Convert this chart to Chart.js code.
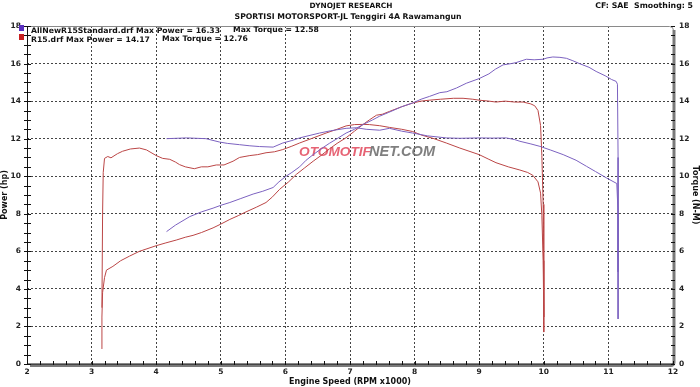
<!DOCTYPE html>
<html>
<head>
<meta charset="utf-8">
<script src="https://cdn.jsdelivr.net/npm/chart.js@4"></script>
<style>
  body { margin: 0; background: #fff; }
  #grafik { display: block; }
</style>
</head>
<body>
<canvas id="grafik" width="700" height="387"></canvas>
<script>
const rpmPowerStd = [4.16, 4.3, 4.52, 4.7, 4.88, 5.0, 5.14, 5.3, 5.5, 5.65, 5.81, 5.9, 6.01, 6.1, 6.22, 6.32, 6.43, 6.55, 6.68, 6.8, 6.94, 7.07, 7.2, 7.35, 7.46, 7.6, 7.8, 7.97, 8.1, 8.23, 8.39, 8.5, 8.65, 8.8, 9.0, 9.15, 9.25, 9.37, 9.5, 9.57, 9.73, 9.85, 9.99, 10.05, 10.14, 10.25, 10.35, 10.45, 10.55, 10.7, 10.81, 10.95, 11.05, 11.12, 11.14, 11.15, 11.15, 11.15];
const hpStd = [7.05, 7.4, 7.85, 8.1, 8.3, 8.45, 8.6, 8.8, 9.05, 9.2, 9.4, 9.7, 10.0, 10.2, 10.5, 10.85, 11.15, 11.45, 11.75, 12.0, 12.3, 12.5, 12.75, 13.0, 13.2, 13.4, 13.7, 13.9, 14.1, 14.25, 14.45, 14.5, 14.7, 14.95, 15.2, 15.45, 15.7, 15.93, 16.0, 16.05, 16.23, 16.2, 16.23, 16.3, 16.35, 16.33, 16.28, 16.15, 16.0, 15.8, 15.58, 15.35, 15.15, 15.05, 14.9, 11.0, 5.0, 2.4];

const rpmTorsiStd = [4.16, 4.47, 4.77, 4.98, 5.1, 5.29, 5.45, 5.6, 5.81, 5.96, 6.1, 6.22, 6.35, 6.53, 6.7, 6.94, 7.1, 7.25, 7.46, 7.61, 7.8, 7.97, 8.2, 8.49, 8.7, 9.0, 9.2, 9.42, 9.55, 9.63, 9.8, 9.94, 10.1, 10.3, 10.5, 10.66, 10.8, 10.97, 11.13, 11.15, 11.15];
const nmStd = [12.0, 12.04, 12.0, 11.82, 11.75, 11.68, 11.62, 11.58, 11.55, 11.77, 11.9, 12.04, 12.15, 12.3, 12.42, 12.55, 12.58, 12.5, 12.45, 12.55, 12.4, 12.3, 12.15, 12.04, 12.02, 12.04, 12.03, 12.04, 11.95, 11.86, 11.72, 11.59, 11.4, 11.15, 10.85, 10.53, 10.25, 9.91, 9.61, 8.0, 4.9];

const rpmPowerR15 = [3.16, 3.16, 3.17, 3.2, 3.23, 3.33, 3.45, 3.59, 3.74, 4.0, 4.15, 4.31, 4.45, 4.57, 4.7, 4.88, 5.0, 5.14, 5.27, 5.39, 5.55, 5.7, 5.8, 5.91, 6.05, 6.17, 6.3, 6.43, 6.55, 6.68, 6.8, 6.94, 7.07, 7.2, 7.3, 7.41, 7.5, 7.61, 7.8, 7.97, 8.1, 8.23, 8.4, 8.6, 8.75, 8.9, 9.0, 9.15, 9.26, 9.4, 9.55, 9.68, 9.8, 9.86, 9.91, 9.95, 9.97, 9.99, 10.0, 10.0];
const hpR15 = [0.8, 2.5, 3.8, 4.6, 5.0, 5.2, 5.5, 5.75, 6.0, 6.3, 6.45, 6.6, 6.75, 6.85, 7.0, 7.25, 7.45, 7.7, 7.9, 8.1, 8.35, 8.6, 8.9, 9.3, 9.7, 10.1, 10.45, 10.8, 11.1, 11.45, 11.75, 12.05, 12.4, 12.75, 13.0, 13.25, 13.3, 13.45, 13.7, 13.9, 14.0, 14.05, 14.1, 14.15, 14.15, 14.1, 14.05, 14.0, 13.95, 14.0, 13.95, 13.95, 13.85, 13.75, 13.5, 12.7, 11.1, 8.5, 5.0, 1.7];

const rpmTorsiR15 = [3.16, 3.17, 3.18, 3.2, 3.25, 3.3, 3.4, 3.48, 3.6, 3.74, 3.85, 4.0, 4.1, 4.21, 4.3, 4.36, 4.45, 4.59, 4.7, 4.8, 4.93, 5.05, 5.19, 5.29, 5.45, 5.57, 5.7, 5.83, 5.96, 6.1, 6.22, 6.4, 6.63, 6.8, 6.94, 7.07, 7.2, 7.3, 7.46, 7.61, 7.8, 7.97, 8.1, 8.3, 8.49, 8.7, 9.0, 9.15, 9.26, 9.45, 9.63, 9.75, 9.83, 9.91, 9.95, 9.97, 9.99, 10.0];
const nmR15 = [3.0, 8.0, 10.2, 10.95, 11.05, 10.98, 11.2, 11.33, 11.45, 11.5, 11.4, 11.1, 10.95, 10.9, 10.75, 10.62, 10.5, 10.4, 10.5, 10.5, 10.6, 10.6, 10.8, 11.0, 11.1, 11.15, 11.25, 11.3, 11.42, 11.6, 11.77, 12.0, 12.3, 12.5, 12.68, 12.75, 12.76, 12.75, 12.69, 12.6, 12.5, 12.38, 12.2, 12.0, 11.77, 11.5, 11.15, 10.9, 10.72, 10.5, 10.33, 10.2, 10.05, 9.7, 9.1, 7.9, 5.5, 2.5];

const ticksX = [2, 3, 4, 5, 6, 7, 8, 9, 10, 11, 12];
const ticksY = [0, 2, 4, 6, 8, 10, 12, 14, 16, 18];

const warnaStd = '#7c62c0';
const warnaR15 = '#bb4646';
const huruf = '"DejaVu Sans", Verdana, sans-serif';

function gabung(xs, ys) {
    return xs.map((x, i) => ({ x: x, y: ys[i] }));
}

function tulisPas(ctx, teks, x, y, lebar, align, warna, gaya) {
    ctx.font = gaya + ' 10px ' + huruf;
    const ukuran = 10 * lebar / ctx.measureText(teks).width;
    ctx.font = gaya + ' ' + ukuran.toFixed(2) + 'px ' + huruf;
    ctx.fillStyle = warna;
    ctx.textAlign = align;
    ctx.textBaseline = 'middle';
    ctx.fillText(teks, x, y);
}

const hiasan = {
    id: 'hiasan',
    beforeDatasetsDraw(chart) {
        const ctx = chart.ctx;
        ctx.save();
        ctx.font = 'italic bold 10px "Liberation Sans", Arial, sans-serif';
        let w = ctx.measureText('OTOMOTIF').width;
        ctx.font = 'italic bold ' + (10 * 72 / w).toFixed(2) + 'px "Liberation Sans", Arial, sans-serif';
        ctx.textAlign = 'left';
        ctx.textBaseline = 'middle';
        ctx.fillStyle = 'rgba(226, 72, 92, 0.85)';
        ctx.fillText('OTOMOTIF', 299, 152);
        ctx.font = 'italic bold 10px "Liberation Sans", Arial, sans-serif';
        w = ctx.measureText('NET.COM').width;
        ctx.font = 'italic bold ' + (10 * 66 / w).toFixed(2) + 'px "Liberation Sans", Arial, sans-serif';
        ctx.fillStyle = 'rgba(105, 105, 105, 0.85)';
        ctx.fillText('NET.COM', 369, 152);
        ctx.restore();
    },
    afterDraw(chart) {
        const ctx = chart.ctx;
        const a = chart.chartArea;
        const sx = chart.scales.x;
        const sy = chart.scales.y;
        ctx.save();

        ctx.strokeStyle = '#8a8a8a';
        ctx.lineWidth = 1;
        ctx.beginPath();
        ctx.moveTo(a.left, a.top + 0.5);
        ctx.lineTo(a.right - 4, a.top + 0.5);
        ctx.arcTo(a.right + 0.5, a.top + 0.5, a.right + 0.5, a.top + 5, 4);
        ctx.stroke();

        ctx.strokeStyle = '#7a7a7a';
        ctx.lineWidth = 3;
        ctx.beginPath();
        ctx.moveTo(a.right + 1, a.top + 4);
        ctx.lineTo(a.right + 1, a.bottom - 2);
        ctx.arcTo(a.right + 1, a.bottom + 1.5, a.right - 3, a.bottom + 1.5, 3);
        ctx.lineTo(a.left + 3, a.bottom + 1.5);
        ctx.stroke();

        ctx.strokeStyle = '#111';
        ctx.lineWidth = 1;
        ctx.beginPath();
        ctx.moveTo(a.left + 0.5, a.top);
        ctx.lineTo(a.left + 0.5, a.bottom);
        ctx.lineTo(a.right, a.bottom);
        for (let v = 0; v <= 18; v += 0.5) {
            const py = Math.round(sy.getPixelForValue(v)) + 0.5;
            ctx.moveTo(a.left - 3, py);
            ctx.lineTo(a.left + 4, py);
            ctx.moveTo(a.right - 2, py);
            ctx.lineTo(a.right + 2, py);
        }
        for (let i = 0; i <= 50; i++) {
            const px = Math.round(sx.getPixelForValue(2 + i * 0.2)) + 0.5;
            ctx.moveTo(px, a.bottom - 3);
            ctx.lineTo(px, a.bottom + 1);
        }
        ctx.stroke();

        tulisPas(ctx, 'DYNOJET RESEARCH', 351, 6, 83, 'center', '#111', 'bold');
        tulisPas(ctx, 'SPORTISI MOTORSPORT-JL Tenggiri 4A Rawamangun', 348, 17, 227, 'center', '#111', 'bold');
        tulisPas(ctx, 'CF: SAE  Smoothing: 5', 693, 6, 98, 'right', '#111', 'bold');

        ctx.fillStyle = '#5a30c0';
        ctx.fillRect(19, 25, 5, 6);
        ctx.fillStyle = '#c82020';
        ctx.fillRect(19, 34, 5, 6);
        tulisPas(ctx, 'AllNewR15Standard.drf Max Power = 16.33', 31, 30.5, 189, 'left', '#111', 'bold');
        tulisPas(ctx, 'Max Torque = 12.58', 233, 30.5, 86, 'left', '#111', 'bold');
        tulisPas(ctx, 'R15.drf Max Power = 14.17', 31, 39.5, 119, 'left', '#111', 'bold');
        tulisPas(ctx, 'Max Torque = 12.76', 162, 39.5, 86, 'left', '#111', 'bold');
        ctx.restore();
    }
};

function warnaGrid(batas) {
    return function(c) {
        if (c.tick && batas.includes(c.tick.value)) {
            return 'rgba(0,0,0,0)';
        }
        return '#444';
    };
}

const fontTick = { family: huruf, size: 7.5, weight: 'bold' };
const fontJudul = { family: huruf, size: 8, weight: 'bold' };

new Chart(document.getElementById('grafik'), {
    type: 'line',
    data: {
        datasets: [
            { label: 'AllNewR15Standard Power', data: gabung(rpmPowerStd, hpStd), borderColor: warnaStd, yAxisID: 'y' },
            { label: 'AllNewR15Standard Torque', data: gabung(rpmTorsiStd, nmStd), borderColor: warnaStd, yAxisID: 'y2' },
            { label: 'R15 Power', data: gabung(rpmPowerR15, hpR15), borderColor: warnaR15, yAxisID: 'y' },
            { label: 'R15 Torque', data: gabung(rpmTorsiR15, nmR15), borderColor: warnaR15, yAxisID: 'y2' }
        ]
    },
    options: {
        responsive: false,
        animation: false,
        layout: { padding: { top: 26, left: 0, right: 0, bottom: 0 } },
        elements: {
            point: { radius: 0 },
            line: { borderWidth: 1, tension: 0 }
        },
        plugins: {
            legend: { display: false },
            tooltip: { enabled: false }
        },
        scales: {
            x: {
                type: 'linear',
                min: 2,
                max: 12,
                afterBuildTicks: s => { s.ticks = ticksX.map(v => ({ value: v })); },
                afterFit: s => { s.height = 23; },
                ticks: { font: fontTick, color: '#222', padding: 4 },
                grid: { color: warnaGrid([2, 12]), drawTicks: false },
                border: { display: false, dash: [2, 2] },
                title: { display: true, text: 'Engine Speed (RPM x1000)', font: fontJudul, color: '#111', padding: 0 }
            },
            y: {
                position: 'left',
                min: 0,
                max: 18,
                afterBuildTicks: s => { s.ticks = ticksY.map(v => ({ value: v })); },
                afterFit: s => { s.width = 27; },
                ticks: { font: fontTick, color: '#222', padding: 6 },
                grid: { color: warnaGrid([0, 18]), drawTicks: false },
                border: { display: false, dash: [2, 2] },
                title: { display: true, text: 'Power (hp)', font: fontJudul, color: '#111', padding: 0 }
            },
            y2: {
                position: 'right',
                min: 0,
                max: 18,
                afterBuildTicks: s => { s.ticks = ticksY.map(v => ({ value: v })); },
                afterFit: s => { s.width = 27; },
                ticks: { font: fontTick, color: '#222', padding: 6 },
                grid: { display: false, drawTicks: false },
                border: { display: false },
                title: { display: true, text: 'Torque (N-M)', font: fontJudul, color: '#111', padding: 0 }
            }
        }
    },
    plugins: [hiasan]
});
</script>
</body>
</html>
